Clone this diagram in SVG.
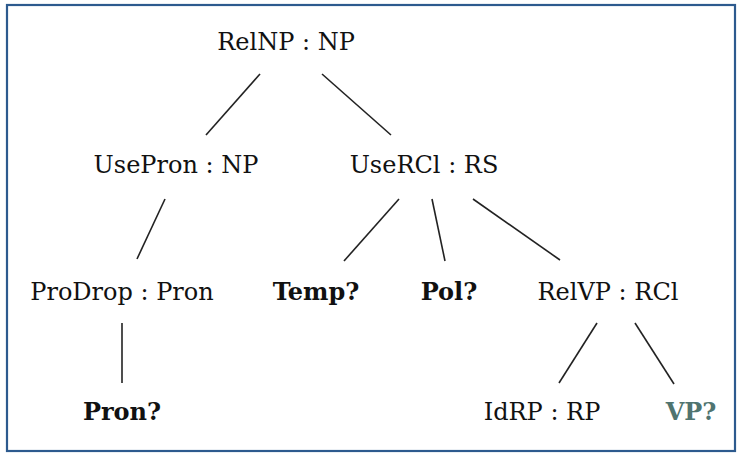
<svg xmlns="http://www.w3.org/2000/svg" width="741" height="455" viewBox="0 0 741 455">
<style>
text{font-family:"DejaVu Serif",serif;font-size:24px;fill:#111;text-anchor:middle}
.b{font-weight:bold}
.m{fill:#4f7470}
line{stroke:#222;stroke-width:1.6}
</style>
<rect x="0" y="0" width="741" height="455" fill="#fff"/>
<rect x="7" y="5" width="728" height="446" fill="none" stroke="#2d5a8e" stroke-width="2.2"/>
<g id="connectors">
<line x1="260" y1="74" x2="206" y2="135"/>
<line x1="322" y1="74" x2="391" y2="135"/>
<line x1="165" y1="199" x2="137" y2="259"/>
<line x1="122" y1="323" x2="122" y2="383"/>
<line x1="399" y1="199" x2="344" y2="261"/>
<line x1="432" y1="199" x2="445" y2="261"/>
<line x1="473" y1="199" x2="560" y2="260"/>
<line x1="597" y1="323" x2="559" y2="383"/>
<line x1="635" y1="323" x2="674" y2="384"/>
</g>
<g id="relnp"><text x="286" y="50">RelNP : NP</text></g>
<g id="usepron"><text x="176" y="173">UsePron : NP</text></g>
<g id="usercl"><text x="424" y="173">UseRCl : RS</text></g>
<g id="prodrop"><text x="122" y="300">ProDrop : Pron</text></g>
<g id="temp"><text class="b" x="316" y="300">Temp?</text></g>
<g id="pol"><text class="b" x="449" y="300">Pol?</text></g>
<g id="relvp"><text x="608" y="300">RelVP : RCl</text></g>
<g id="pron"><text class="b" x="122" y="420">Pron?</text></g>
<g id="idrp"><text x="542" y="420">IdRP : RP</text></g>
<g id="vp"><text class="b m" x="691" y="420">VP?</text></g>
</svg>
